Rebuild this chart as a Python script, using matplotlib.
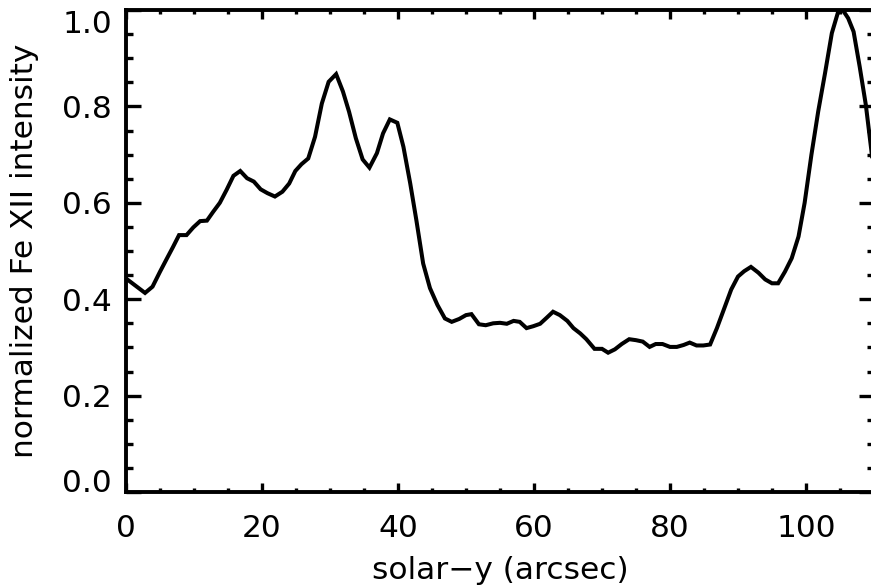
import matplotlib
matplotlib.use("Agg")
import matplotlib.pyplot as plt
from matplotlib.ticker import MultipleLocator

# solar-y positions (arcsec) and normalized Fe XII intensity
solar_y = [0.0, 2.8, 3.9, 5.0, 6.0, 6.9, 7.8, 8.9, 9.9, 10.9, 11.9, 12.8, 13.8, 14.8,
           15.8, 16.8, 17.8, 18.8, 19.8, 20.8, 21.9, 23.0, 24.0, 24.9, 25.8, 26.8,
           27.8, 28.8, 29.8, 30.9, 31.9, 32.8, 33.8, 34.8, 35.8, 36.9, 37.8, 38.8,
           39.9, 40.8, 41.8, 42.7, 43.7, 44.7, 45.8, 46.9, 47.9, 49.0, 50.0, 50.8,
           51.9, 52.9, 54.0, 55.0, 56.0, 57.0, 57.9, 58.9, 59.9, 60.9, 61.9, 62.8,
           63.8, 64.9, 65.8, 66.8, 67.7, 68.9, 70.0, 70.9, 71.9, 72.9, 74.0, 75.0,
           76.0, 77.0, 77.9, 78.9, 80.0, 81.0, 82.0, 82.9, 83.9, 84.9, 85.9, 86.9,
           87.9, 89.0, 90.0, 90.9, 91.9, 93.0, 94.0, 95.0, 95.9, 96.9, 97.9, 98.9,
           99.8, 100.8, 101.8, 102.8, 103.8, 104.7, 105.4, 106.2, 107.0, 107.9,
           108.8, 109.6, 110.0]
intensity = [0.443, 0.413, 0.426, 0.457, 0.484, 0.508, 0.533, 0.533, 0.549, 0.562,
             0.563, 0.581, 0.600, 0.627, 0.656, 0.666, 0.651, 0.644, 0.628, 0.620,
             0.613, 0.623, 0.640, 0.666, 0.680, 0.692, 0.737, 0.806, 0.851, 0.867,
             0.831, 0.789, 0.734, 0.690, 0.673, 0.703, 0.744, 0.773, 0.766, 0.716,
             0.640, 0.564, 0.474, 0.423, 0.388, 0.360, 0.353, 0.359, 0.367, 0.369,
             0.348, 0.346, 0.350, 0.351, 0.349, 0.355, 0.353, 0.340, 0.344, 0.349,
             0.362, 0.374, 0.367, 0.355, 0.340, 0.329, 0.317, 0.297, 0.297, 0.289,
             0.296, 0.307, 0.317, 0.315, 0.312, 0.301, 0.307, 0.307, 0.301, 0.301,
             0.305, 0.310, 0.304, 0.304, 0.306, 0.340, 0.378, 0.420, 0.447, 0.458,
             0.467, 0.455, 0.441, 0.433, 0.433, 0.457, 0.485, 0.530, 0.600, 0.700,
             0.790, 0.869, 0.952, 0.995, 1.000, 0.983, 0.955, 0.882, 0.803, 0.710,
             0.660]

plt.rcParams["font.family"] = "DejaVu Sans"
fs = 22.5

fig = plt.figure(figsize=(8.71, 5.88), dpi=100)
ax = fig.add_axes([126 / 871, 1 - 492 / 588, 748 / 871, 482 / 588])

ax.plot(solar_y, intensity, color="black", lw=2.9, solid_joinstyle="miter")

ax.set_xlim(0, 110)
ax.set_ylim(0, 1.0)
ax.xaxis.set_major_locator(MultipleLocator(20))
ax.xaxis.set_minor_locator(MultipleLocator(5))
ax.yaxis.set_major_locator(MultipleLocator(0.2))
ax.yaxis.set_minor_locator(MultipleLocator(0.05))
ax.yaxis.set_major_formatter(plt.FormatStrFormatter("%.1f"))

for s in ax.spines.values():
    s.set_linewidth(2.8)

ax.tick_params(axis="both", which="both", direction="in", top=True, right=True,
               labelsize=fs)
ax.tick_params(axis="x", which="major", length=6.5, width=2.4, pad=16)
ax.tick_params(axis="x", which="minor", length=3.2, width=2.4)
ax.tick_params(axis="y", which="major", length=10.8, width=2.4, pad=10)
ax.tick_params(axis="y", which="minor", length=5, width=2.4)

ax.set_xlabel("solar\u2212y (arcsec)", fontsize=fs, labelpad=9)
ax.set_ylabel("normalized Fe XII intensity", fontsize=fs, labelpad=17)

# keep the end labels inside the plot like the original
fig.canvas.draw()
for t in ax.yaxis.get_major_ticks():
    if abs(t.get_loc()) < 1e-6:
        t.label1.set_verticalalignment("baseline")
    elif abs(t.get_loc() - 1.0) < 1e-6:
        t.label1.set_verticalalignment("top")

fig.savefig("out.png", dpi=100)
